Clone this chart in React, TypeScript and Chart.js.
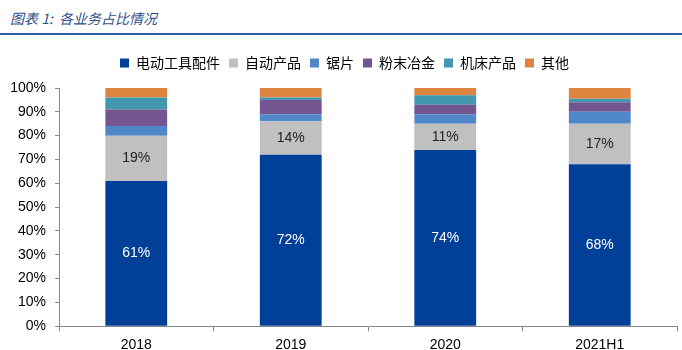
import React, { useEffect, useRef } from "react";
import { Chart, registerables } from "chart.js";

Chart.register(...registerables);

const categories = ["2018", "2019", "2020", "2021H1"];
const seriesNames = ["电动工具配件", "自动产品", "锯片", "粉末冶金", "机床产品", "其他"];
const powerTools = [61, 72, 74, 68];
const autoProducts = [19, 14, 11, 17];
const sawBlades = [4, 3, 4, 5];
const powderMetal = [7, 6, 4, 4];
const machineTools = [5, 1, 4, 1.5];
const others = [4, 4, 3, 4.5];
const yTicks = [0, 10, 20, 30, 40, 50, 60, 70, 80, 90, 100];
const colors = ["#004098", "#C0C0C0", "#5087C8", "#735590", "#4397AE", "#DD8441"];

const tickFont = '"Liberation Sans"';

const labelPlugin = {
  id: "segLabels",
  afterDatasetsDraw(chart: any) {
    const ctx = chart.ctx;
    ctx.save();
    ctx.font = '14px "Liberation Sans"';
    ctx.textAlign = "center";
    ctx.textBaseline = "middle";
    [0, 1].forEach((di) => {
      const meta = chart.getDatasetMeta(di);
      meta.data.forEach((bar: any, i: number) => {
        const v = chart.data.datasets[di].data[i];
        const y = (bar.y + bar.base) / 2;
        ctx.fillStyle = di === 0 ? "#ffffff" : "#222222";
        ctx.fillText(Math.round(v) + "%", bar.x, y);
      });
    });
    ctx.restore();
  },
};

const legendMargin = {
  id: "legendMargin",
  beforeInit(chart: any) {
    const legend = chart.legend;
    const origFit = legend.fit;
    legend.fit = function () {
      origFit.call(this);
      this.height += 8;
    };
    const origDraw = legend.draw;
    legend.draw = function () {
      const ctx = this.ctx;
      ctx.save();
      ctx.translate(6, 0);
      origDraw.call(this);
      ctx.restore();
    };
  },
};

export default function App() {
  const ref = useRef<HTMLCanvasElement>(null);
  useEffect(() => {
    const values = [powerTools, autoProducts, sawBlades, powderMetal, machineTools, others];
    const chart = new Chart(ref.current!, {
      type: "bar",
      data: {
        labels: categories,
        datasets: seriesNames.map((n, i) => ({
          label: n,
          data: values[i],
          backgroundColor: colors[i],
          borderWidth: 0,
          barPercentage: 0.4,
          categoryPercentage: 1,
        })),
      },
      options: {
        animation: false,
        responsive: false,
        maintainAspectRatio: false,
        layout: { padding: { top: 47, right: 5, left: 0, bottom: -10 } },
        plugins: {
          legend: {
            position: "top",
            labels: {
              boxWidth: 9,
              boxHeight: 9,
              padding: 9,
              color: "#000",
              font: { size: 14, family: '"Noto Sans CJK SC"' },
            },
          },
          tooltip: { enabled: false },
        },
        scales: {
          x: {
            stacked: true,
            grid: {
              display: true,
              drawOnChartArea: false,
              offset: true,
              tickLength: 5,
              color: "#888",
            },
            border: { color: "#888" },
            ticks: { color: "#000", font: { size: 14, family: tickFont }, padding: 6 },
          },
          y: {
            stacked: true,
            min: 0,
            max: 100,
            afterBuildTicks(scale: any) {
              scale.ticks = yTicks.map((v) => ({ value: v }));
            },
            afterFit(scale: any) {
              scale.width = 59;
            },
            grid: { display: true, drawOnChartArea: false, tickLength: 4, color: "#888" },
            border: { color: "#888" },
            ticks: {
              color: "#000",
              font: { size: 14, family: tickFont },
              padding: 9,
              callback: (v: any) => v + "%",
            },
          },
        },
      },
      plugins: [labelPlugin, legendMargin],
    });
    return () => chart.destroy();
  }, []);
  return (
    <div style={{ position: "fixed", left: 0, top: 0, width: 682, height: 350, background: "#fff" }}>
      <div
        style={{
          position: "absolute",
          left: 10,
          top: 8,
          fontFamily: '"Noto Sans CJK SC"',
          fontStyle: "italic",
          fontSize: 14,
          color: "#2F4F8F",
          lineHeight: "20px",
          whiteSpace: "pre",
        }}
      >
        {"图表 1:  各业务占比情况"}
      </div>
      <div style={{ position: "absolute", left: 0, top: 33, width: 682, height: 2, background: "#2E5AA8" }} />
      <canvas ref={ref} width={682} height={350} style={{ position: "absolute", left: 0, top: 0 }} />
    </div>
  );
}
